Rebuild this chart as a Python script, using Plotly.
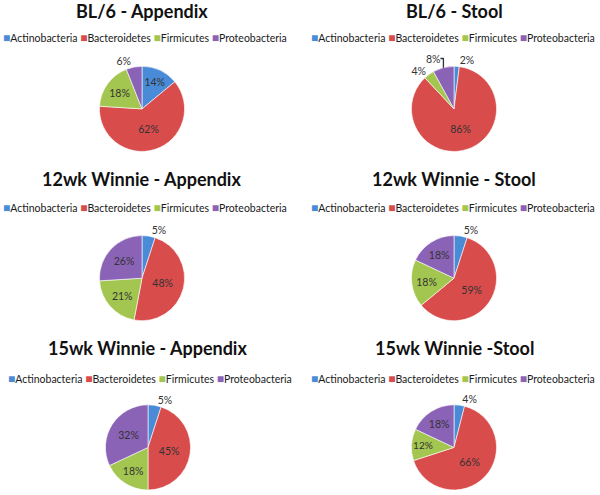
import plotly.graph_objects as go

phyla = ["Actinobacteria", "Bacteroidetes", "Firmicutes", "Proteobacteria"]
colors = ["#4A8BD8", "#D94C4C", "#A3C651", "#8A62B6"]

titles = ["BL/6 - Appendix", "BL/6 - Stool",
          "12wk Winnie - Appendix", "12wk Winnie - Stool",
          "15wk Winnie - Appendix", "15wk Winnie -Stool"]

bl6_appendix = [14, 62, 18, 6]
bl6_stool = [2, 86, 4, 8]
wk12_appendix = [5, 48, 21, 26]
wk12_stool = [5, 59, 18, 18]
wk15_appendix = [5, 45, 18, 32]
wk15_stool = [4, 66, 12, 18]

series = [bl6_appendix, bl6_stool, wk12_appendix, wk12_stool, wk15_appendix, wk15_stool]

# layout (pixels): pie centre, title and legend positions
W, H = 600, 495
R = 43
panels = [
    dict(cx=142, cy=110, ty=11, ly=38, lx=145, tx=142),
    dict(cx=454, cy=110, ty=11, ly=38, lx=453, tx=454),
    dict(cx=142, cy=281, ty=181, ly=210, lx=145, tx=141),
    dict(cx=454, cy=281, ty=181, ly=210, lx=453, tx=454),
    dict(cx=148, cy=452, ty=352, ly=382, lx=150, tx=147),
    dict(cx=454, cy=452, ty=352, ly=382, lx=453, tx=454),
]

fig = go.Figure()
annotations = []
for vals, title, p in zip(series, titles, panels):
    positions = ["outside" if v < 10 else "inside" for v in vals]
    fig.add_trace(go.Pie(
        labels=phyla, values=vals, sort=False, direction="clockwise", rotation=0,
        marker=dict(colors=colors, line=dict(color="white", width=0.6)),
        texttemplate="%{value}%", textposition=positions,
        insidetextorientation="horizontal",
        textfont=dict(family="Lato, sans-serif", size=10.5, color="#333333"),
        showlegend=False, hoverinfo="label+value",
        domain=dict(x=[(p["cx"] - R) / W, (p["cx"] + R) / W],
                    y=[1 - (p["cy"] + R) / H, 1 - (p["cy"] - R) / H]),
    ))
    annotations.append(dict(
        text=f"<b>{title}</b>", x=p["tx"] / W, y=1 - p["ty"] / H,
        xref="paper", yref="paper", showarrow=False, xanchor="center", yanchor="middle",
        font=dict(family="Lato, sans-serif", size=18, color="#111111")))
    legend_text = " ".join(
        f"<span style='color:{c};font-size:12px'>■</span>{name}" for c, name in zip(colors, phyla))
    annotations.append(dict(
        text=legend_text, x=p["lx"] / W, y=1 - p["ly"] / H,
        xref="paper", yref="paper", showarrow=False, xanchor="center", yanchor="middle",
        font=dict(family="Lato, sans-serif", size=10.5, color="#1a1a1a")))

fig.update_layout(
    width=W, height=H, margin=dict(l=0, r=0, t=0, b=0),
    paper_bgcolor="white", plot_bgcolor="white",
    annotations=annotations,
)
fig.write_html("out.html", config={"displayModeBar": False},
               post_script="document.body.style.margin='0px';")
